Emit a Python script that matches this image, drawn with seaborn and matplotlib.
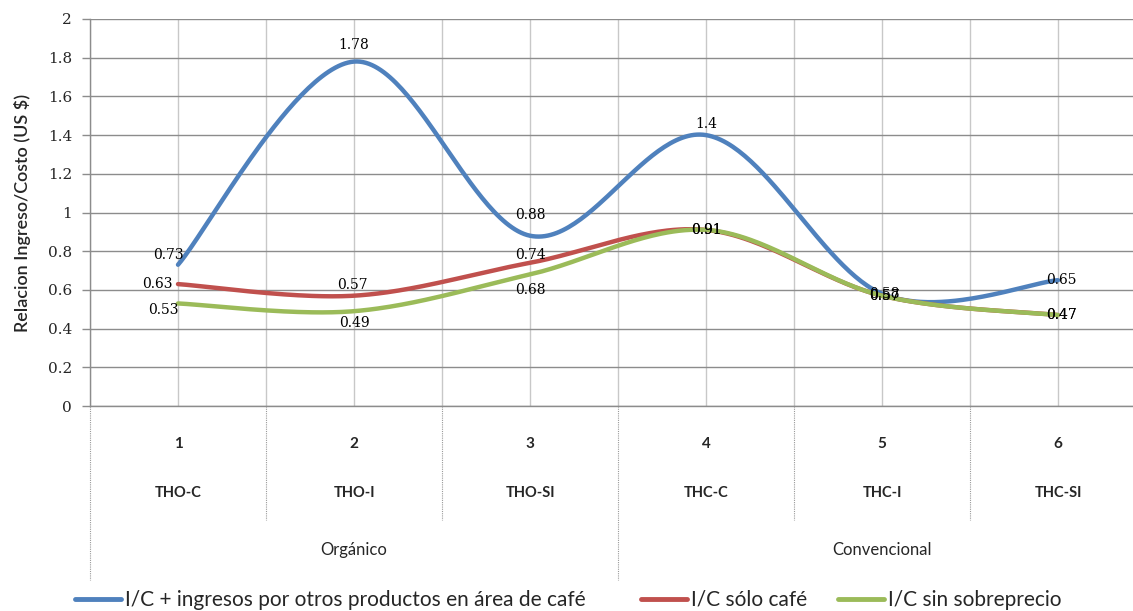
import numpy as np
import pandas as pd
import matplotlib
matplotlib.use("Agg")
import matplotlib.pyplot as plt
from matplotlib.lines import Line2D
import seaborn as sns

# ---- data ----
positions = [1, 2, 3, 4, 5, 6]
systems = ["THO-C", "THO-I", "THO-SI", "THC-C", "THC-I", "THC-SI"]
groups = ["Orgánico", "Convencional"]
series_names = [
    "I/C + ingresos por otros productos en área de café",
    "I/C sólo café",
    "I/C sin sobreprecio",
]
ic_otros = [0.73, 1.78, 0.88, 1.40, 0.58, 0.65]
ic_cafe = [0.63, 0.57, 0.74, 0.91, 0.57, 0.47]
ic_sin_sobreprecio = [0.53, 0.49, 0.68, 0.91, 0.57, 0.47]
y_ticks = [0, 0.2, 0.4, 0.6, 0.8, 1.0, 1.2, 1.4, 1.6, 1.8, 2.0]

colors = ["#4F81BD", "#C0504D", "#9BBB59"]

# label offsets in pixels (dx, dy; dy positive = up) for each series / point
label_offsets = [
    [(-10, 10), (0, 17), (0, 21), (0, 11), (2, 0), (3, 0)],
    [(-21, 0), (-2, 11), (0, 8), (0, 0), (2, 0), (3, 0)],
    [(-15, -7), (0, -12), (0, -16), (0, 0), (2, 0), (3, 0)],
]

SERIF = ["DejaVu Serif"]


def smooth_curve(xs, ys, n=60):
    """Bezier smoothing of a polyline, in the style of spreadsheet smoothed lines."""
    pts = np.column_stack([xs, ys]).astype(float)
    ext = np.vstack([pts[0], pts, pts[-1]])
    out = []
    t = np.linspace(0, 1, n)[:, None]
    for i in range(len(pts) - 1):
        p0 = ext[i + 1]
        p3 = ext[i + 2]
        c1 = p0 + (ext[i + 2] - ext[i]) / 6.0
        c2 = p3 - (ext[i + 3] - ext[i + 1]) / 6.0
        seg = ((1 - t) ** 3) * p0 + 3 * ((1 - t) ** 2) * t * c1 \
            + 3 * (1 - t) * t ** 2 * c2 + t ** 3 * p3
        out.append(seg if i == 0 else seg[1:])
    curve = np.vstack(out)
    return curve[:, 0], curve[:, 1]


sns.set_style("white")
plt.rcParams["font.family"] = ["Lato", "DejaVu Sans"]

W, H = 1133, 611
fig = plt.figure(figsize=(W / 100, H / 100), dpi=100)
ax_left, ax_bottom_px, ax_top_px = 90, 406, 19
ax_w = W - ax_left
ax_h = ax_bottom_px - ax_top_px
ax = fig.add_axes([ax_left / W, (H - ax_bottom_px) / H, ax_w / W, ax_h / H])

# smoothed curves in long form
frames = []
for name, vals in zip(series_names, [ic_otros, ic_cafe, ic_sin_sobreprecio]):
    sx, sy = smooth_curve(positions, vals)
    frames.append(pd.DataFrame({"x": sx, "y": sy, "serie": name}))
df = pd.concat(frames, ignore_index=True)

sns.lineplot(data=df, x="x", y="y", hue="serie", palette=colors,
             sort=False, estimator=None, linewidth=3.2, ax=ax,
             hue_order=series_names, legend=False)

# axes styling
ax.set_yticks(y_ticks)
ax.set_yticklabels([f"{t:g}" for t in y_ticks], family=SERIF, fontsize=11)
ax.tick_params(axis="y", which="both", left=True, length=6, width=1,
               color="#8c8c8c", pad=7)
ax.set_xticks(positions)
ax.set_xticks([p + 0.5 for p in [0] + positions], minor=True)
ax.set_xticklabels([str(p) for p in positions], fontsize=11, fontweight="bold")
ax.tick_params(axis="x", which="both", length=0, pad=22)

# one category every 176 px; the last column runs past the right edge
cat_px = 176.0
ax.set_xlim(0.5, 0.5 + ax_w / cat_px)
ax.set_ylim(0, 2)

# data labels
for vals, offs in zip([ic_otros, ic_cafe, ic_sin_sobreprecio], label_offsets):
    for xpos, v, (dx, dy) in zip(positions, vals, offs):
        ax.annotate(f"{v:g}", (xpos, v), xytext=(dx * 0.72, dy * 0.72),
                    textcoords="offset points", ha="center", va="center",
                    fontsize=10, family=SERIF, color="black", zorder=5)

ax.grid(axis="y", color="#8c8c8c", linewidth=1)
ax.grid(axis="x", which="major", color="#c8c8c8", linewidth=1)
ax.grid(axis="x", which="minor", color="#c8c8c8", linewidth=1)
ax.set_axisbelow(True)
for side in ["top", "right"]:
    ax.spines[side].set_visible(False)
for side in ["left", "bottom"]:
    ax.spines[side].set_color("#8c8c8c")
    ax.spines[side].set_linewidth(1)

ax.set_xlabel("")
ax.set_ylabel("Relacion Ingreso/Costo (US $)", fontsize=13,
              fontweight="semibold", labelpad=12)

# multi-level category labels
trans = ax.get_xaxis_transform()
for p, s in zip(positions, systems):
    ax.text(p, -87 / ax_h, s, transform=trans, ha="center", va="center",
            fontsize=10.5, fontweight="bold")
for gi, g in enumerate(groups):
    ax.text(2 + 3 * gi, -144 / ax_h, g, transform=trans, ha="center",
            va="center", fontsize=12)

# dotted separators below the axis
for b in [0.5 + k for k in range(7)]:
    depth = -174 / ax_h if b in (0.5, 3.5, 6.5) else -114 / ax_h
    ax.plot([b, b], [0, depth], transform=trans, clip_on=False,
            color="#9a9a9a", linewidth=0.8, linestyle=(0, (1, 1)))
ax.set_xlim(0.5, 0.5 + ax_w / cat_px)

# legend: one entry per series, laid out along the bottom
legend_x_px = [75, 641, 838]
for name, col, lx in zip(series_names, colors, legend_x_px):
    handle = Line2D([], [], color=col, linewidth=3.5)
    fig.legend([handle], [name], loc="center left",
               bbox_to_anchor=(lx / W, (H - 600) / H), frameon=False,
               fontsize=15, handlelength=2.2, handletextpad=0.2,
               borderpad=0, borderaxespad=0)

fig.savefig("out.png", dpi=100)
